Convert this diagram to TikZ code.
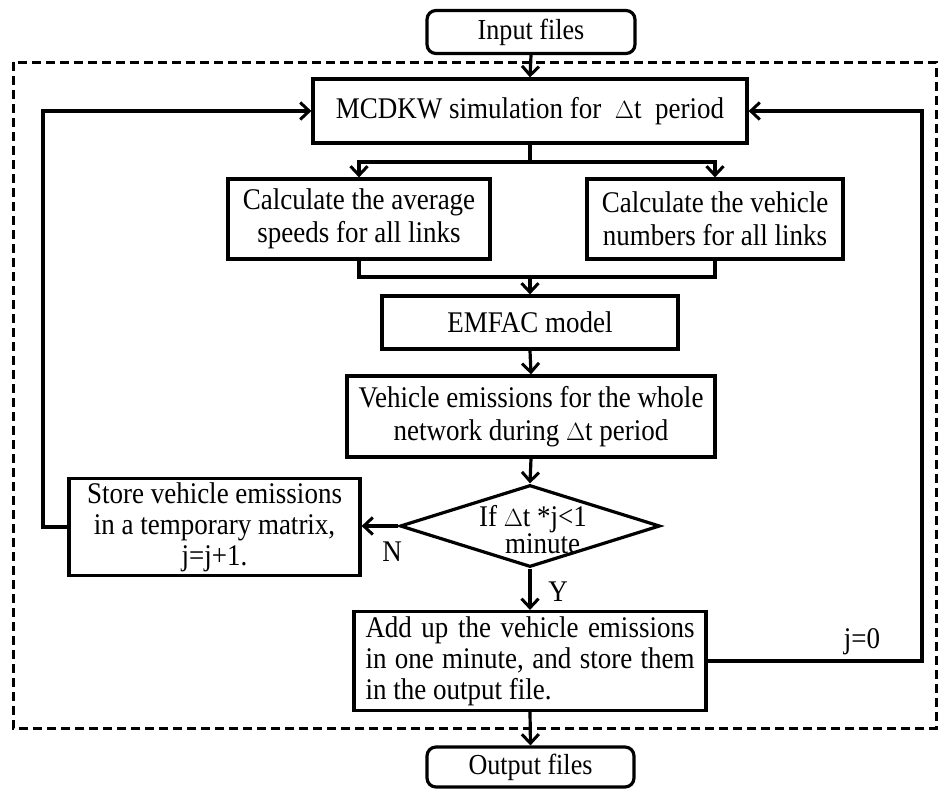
\documentclass[tikz,border=0pt]{standalone}
\usepackage{fontspec}
\setmainfont[FakeStretch=0.9]{Liberation Serif}
\usetikzlibrary{arrows.meta,shapes.geometric}
\begin{document}
\begin{tikzpicture}[x=1pt,y=-1pt,
  every node/.style={font=\fontsize{30}{33}\selectfont},
  box/.style={draw,line width=3.2pt,inner sep=0pt,align=center},
  rbox/.style={box,rounded corners=9pt,font=\fontsize{29}{30}\selectfont},
  dia/.style={draw,line width=3.2pt,diamond,inner sep=0pt},
  conn/.style={line width=3.2pt},
  arr/.style={conn,-{Straight Barb[length=9pt,width=17pt,line width=3pt]}},
  lbl/.style={inner sep=0pt}]
\useasboundingbox (0,0) rectangle (938,788);
\draw[line width=3pt,dash pattern=on 9pt off 5pt] (13,62) rectangle (936,728);
\node[rbox,minimum width=208pt,minimum height=43pt] (inp) at (531,32) {Input files};
\node[box,minimum width=434pt,minimum height=64pt] (mc) at (530,111) {MCDKW simulation for\ \ $\Delta$t\ \ period};
\node[box,minimum width=262pt,minimum height=80pt] (cl) at (359,219) {Calculate the average\\speeds for all links};
\node[box,minimum width=256pt,minimum height=80pt] (cr) at (715,219) {Calculate the vehicle\\numbers for all links};
\node[box,minimum width=296pt,minimum height=53pt] (em) at (530,322.5) {EMFAC model};
\node[box,minimum width=368pt,minimum height=81pt] (ve) at (531,416.5) {Vehicle emissions for the whole\\network during $\Delta$t period};
\node[dia,minimum width=260pt,minimum height=82pt] (dec) at (530,526) {};
\node[lbl,align=left,font=\fontsize{30}{27}\selectfont] (dect) at (533,530) {If $\Delta$t *j<1\\\hspace*{26pt}minute};
\node[box,minimum width=291pt,minimum height=97pt,font=\fontsize{30}{31}\selectfont] (st) at (214.5,527) {Store vehicle emissions\\in a temporary matrix,\\j=j+1.};
\node[box,minimum width=352pt,minimum height=99pt,align=left,font=\fontsize{30}{31}\selectfont] (add) at (530,661) {\makebox[329pt][s]{Add up the vehicle emissions}\\\makebox[329pt][s]{in one minute, and store them}\\in the output file.};
\node[rbox,minimum width=207pt,minimum height=40pt] (out) at (530.5,767) {Output files};
\node[lbl] (nl) at (392,552) {N};
\node[lbl] (yl) at (558,592) {Y};
\node[lbl] (jl) at (862,642) {j=0};
\coordinate (brn) at (530,162);
\coordinate (mrg) at (530,277);
\coordinate (lc) at (43,524);
\coordinate (rc) at (922,659);
\draw[arr] (inp.south) -- (mc.north);
\draw[conn] (mc.south) -- (brn);
\draw[arr] (brn) -| (cl.north);
\draw[arr] (brn) -| (cr.north);
\draw[conn] (cl.south) |- (mrg);
\draw[conn] (cr.south) |- (mrg);
\draw[arr] (mrg) -- (em.north);
\draw[arr] (em.south) -- (ve.north);
\draw[arr] (ve.south) -- (dec.north);
\draw[arr] (dec.west) -- (dec.west -| st.east);
\draw[arr] (dec.south) -- (add.north);
\draw[arr] (add.south) -- (out.north);
\draw[arr] (st.west) -- (st.west -| lc) |- (mc.west);
\draw[arr] (add.east) -- (add.east -| rc) |- (mc.east);
\end{tikzpicture}
\end{document}
